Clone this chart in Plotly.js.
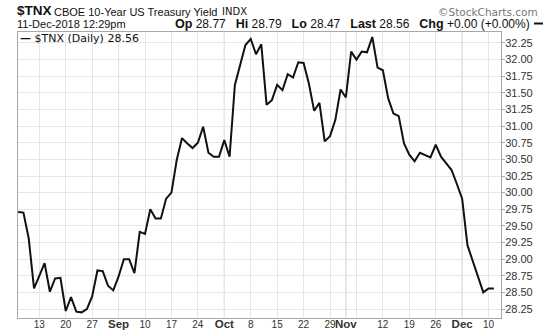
<!DOCTYPE html>
<html>
<head>
<meta charset="utf-8">
<script src="https://cdn.plot.ly/plotly-3.0.1.min.js"></script>
<style>
html,body{margin:0;padding:0;background:#fff;}
#chart{width:550px;height:336px;}
</style>
</head>
<body>
<div id="chart"></div>
<script>
// ---- data ----
var startDate = '2018-08-07';   // first weekday shown
var yieldValues = [29.71, 29.70, 29.31, 28.56, 28.75, 28.94, 28.51, 28.71, 28.72, 28.22,
  28.43, 28.21, 28.20, 28.25, 28.44, 28.83, 28.82, 28.60, 28.53, 28.74,
  29.00, 29.00, 28.79, 29.41, 29.38, 29.75, 29.61, 29.61, 29.91, 30.00,
  30.49, 30.82, 30.74, 30.67, 30.75, 30.99, 30.60, 30.54, 30.54, 30.79,
  30.54, 31.62, 31.92, 32.22, 32.31, 32.08, 32.23, 31.32, 31.39, 31.62,
  31.54, 31.78, 31.73, 31.96, 31.95, 31.64, 31.23, 31.35, 30.77, 30.85,
  31.09, 31.55, 31.43, 32.12, 32.00, 32.12, 32.11, 32.34, 31.88, 31.84,
  31.42, 31.19, 31.15, 30.74, 30.57, 30.47, 30.60, 30.57, 30.53, 30.72,
  30.54, 30.44, 30.34, 30.13, 29.91, 29.21, 28.97, 28.73, 28.50, 28.56, 28.56];
var tickDates = ['2018-08-13','2018-08-20','2018-08-27','2018-09-03','2018-09-10','2018-09-17',
  '2018-09-24','2018-10-01','2018-10-08','2018-10-15','2018-10-22','2018-10-29','2018-11-01',
  '2018-11-05','2018-11-12','2018-11-19','2018-11-26','2018-12-03','2018-12-10'];
var tickLabels = ['13','20','27','Sep','10','17','24','Oct','8','15','22','29','Nov',
  '','12','19','26','Dec','10'];
var monthDates = ['2018-09-03','2018-10-01','2018-11-01','2018-12-03'];
var yTicks = [28.25,28.50,28.75,29.00,29.25,29.50,29.75,30.00,30.25,30.50,30.75,31.00,31.25,31.50,31.75,32.00,32.25];

// weekday calendar (categories)
var dates = [];
(function(){
  var d = new Date(startDate + 'T00:00:00Z');
  while (dates.length < yieldValues.length) {
    var wd = d.getUTCDay();
    if (wd !== 0 && wd !== 6) dates.push(d.toISOString().slice(0,10));
    d.setUTCDate(d.getUTCDate() + 1);
  }
})();

var months = ['Sep','Oct','Nov','Dec'];
var tickText = tickLabels.map(function(t){
  return months.indexOf(t) >= 0 ? '<span style="font-size:11.5px"><b>' + t + '</b></span>' : t;
});

var L = 18, R = 49, T = 32, B = 18, W = 550, H = 336;
var pw = W - L - R, ph = H - T - B;
function px(x){ return (x - L) / pw; }
function py(y){ return (H - B - y) / ph; }

var trace = {
  type: 'scatter', mode: 'lines',
  x: dates, y: yieldValues,
  line: {color: '#111', width: 2},
  hoverinfo: 'skip', showlegend: false
};

var shapes = monthDates.map(function(m){
  var i = dates.indexOf(m);
  return {type:'line', xref:'x', yref:'paper', x0:i, x1:i, y0:0, y1:1,
          line:{color:'#c4c4c4', width:1}, layer:'below'};
});
// the small dash that ends the quote line
shapes.push({type:'line', xref:'paper', yref:'paper', x0:px(534), x1:px(543), y0:py(23.5), y1:py(23.5),
             line:{color:'#111', width:2}});

var hdr = 'Liberation Sans, Arial, sans-serif';
var ver = 'DejaVu Sans, Verdana, sans-serif';
var sep = ' \u00a0\u00a0';
function bl(t){ return '<span style="font-size:12.5px"><b>' + t + '</b></span>'; }
var quote = bl('Op') + ' 28.77' + sep + bl('Hi') + ' 28.79' + sep + bl('Lo') + ' 28.47' + sep +
            bl('Last') + ' 28.56' + sep + bl('Chg') + ' +0.00 (+0.00%)';
var annotations = [
  {text:'<b>$TNX</b>', x:px(16), y:py(10.5), font:{family:hdr, size:13.5, color:'#111'}},
  {text:'CBOE 10-Year US Treasury Yield', x:px(53), y:py(11.5), font:{family:hdr, size:11, color:'#111'}},
  {text:'INDX', x:px(221), y:py(11.5), font:{family:ver, size:10, color:'#111'}},
  {text:'©StockCharts.com', x:px(539), y:py(11.5), xanchor:'right', font:{family:ver, size:10.5, color:'#777'}},
  {text:'11-Dec-2018 12:29pm', x:px(16), y:py(24.5), font:{family:hdr, size:11, color:'#111'}},
  {text:quote, x:px(531), y:py(24), xanchor:'right', font:{family:hdr, size:12, color:'#111'}},
  {text:'<b>—</b> $TNX (Daily) 28.56', x:px(19), y:py(38.5), font:{family:ver, size:11, color:'#111'}}
].map(function(a){
  return Object.assign({xref:'paper', yref:'paper', xanchor:'left', yanchor:'middle',
    showarrow:false, borderpad:0}, a);
});

var layout = {
  width: W, height: H,
  margin: {l:L, r:R, t:T, b:B, pad:0},
  paper_bgcolor: '#fff', plot_bgcolor: '#fff',
  showlegend: false,
  xaxis: {
    type: 'category', categoryorder: 'array', categoryarray: dates,
    range: [-0.03, dates.length + 0.35],
    tickmode: 'array', tickvals: tickDates, ticktext: tickText, tickangle: 0,
    ticks: '', ticklabelstandoff: -3, showgrid: true, gridcolor: '#e6e6e6', gridwidth: 1,
    showline: true, linecolor: '#a8a8a8', linewidth: 1, mirror: true,
    zeroline: false, fixedrange: true,
    tickfont: {family: hdr, size: 10, color: '#333'}
  },
  yaxis: {
    side: 'right', range: [28.115, 32.415],
    tickmode: 'array', tickvals: yTicks, ticktext: yTicks.map(function(v){return v.toFixed(2);}),
    ticks: 'outside', ticklen: 3, tickcolor: '#a8a8a8', ticklabelstandoff: -2,
    showgrid: true, gridcolor: '#e6e6e6', gridwidth: 1,
    showline: true, linecolor: '#a8a8a8', linewidth: 1, mirror: true,
    zeroline: false, fixedrange: true,
    tickfont: {family: 'Liberation Sans, Arial, sans-serif', size: 11, color: '#333'}
  },
  shapes: shapes,
  annotations: annotations
};

Plotly.newPlot('chart', [trace], layout, {staticPlot: true, displayModeBar: false});
</script>
</body>
</html>
